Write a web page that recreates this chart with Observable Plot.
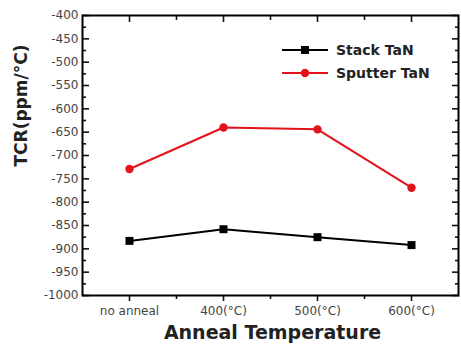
<!DOCTYPE html>
<html>
<head>
<meta charset="utf-8">
<script src="https://cdn.jsdelivr.net/npm/d3@7"></script>
<script src="https://cdn.jsdelivr.net/npm/@observablehq/plot@0.6"></script>
<style>
  html, body { margin: 0; padding: 0; background: white; }
  #wrap { position: relative; width: 461px; height: 354px; font-family: "DejaVu Sans", sans-serif; }
  .leg { position: absolute; left: 280px; display: flex; align-items: center; font-weight: bold; font-size: 14px; color: #222; }
  .leg svg { margin-right: 6px; }
</style>
</head>
<body>
<div id="wrap"></div>
<script>
const categories = ["no anneal", "400(°C)", "500(°C)", "600(°C)"];
const stackTaN = [-883, -858, -875, -892];
const sputterTaN = [-729, -640, -644, -769];
const yMajorTicks = [-1000, -950, -900, -850, -800, -750, -700, -650, -600, -550, -500, -450, -400];
const yMinorTicks = [-975, -925, -875, -825, -775, -725, -675, -625, -575, -525, -475, -425];
const xMajorTicks = [1, 2, 3, 4];
const xMinorTicks = [1.5, 2.5, 3.5];

const stackData = categories.map((c, i) => ({x: i + 1, y: stackTaN[i]}));
const sputterData = categories.map((c, i) => ({x: i + 1, y: sputterTaN[i]}));
const red = "#e3121b";
const tk = "#111";

const chart = Plot.plot({
  width: 461,
  height: 354,
  marginLeft: 82,
  marginRight: 3,
  marginTop: 15,
  marginBottom: 59,
  x: {domain: [0.5, 4.5], label: null},
  y: {domain: [-1000, -400], label: null},
  style: {fontFamily: "DejaVu Sans, sans-serif", fontSize: "12px", background: "white", color: "black"},
  marks: [
    Plot.axisY(yMajorTicks, {anchor: "left", tickSize: 7, dx: 7, text: null, label: null, strokeWidth: 1.6, stroke: tk}),
    Plot.axisY(yMinorTicks, {anchor: "left", tickSize: 4, dx: 4, text: null, label: null, strokeWidth: 1.6, stroke: tk}),
    Plot.axisY(yMajorTicks, {anchor: "right", tickSize: 7, dx: -7, text: null, label: null, strokeWidth: 1.6, stroke: tk}),
    Plot.axisY(yMinorTicks, {anchor: "right", tickSize: 4, dx: -4, text: null, label: null, strokeWidth: 1.6, stroke: tk}),
    Plot.axisY(yMajorTicks, {anchor: "left", tickSize: 0, tickPadding: 4, label: null, fill: "#444", tickFormat: d => String(d)}),
    Plot.axisX(xMajorTicks, {anchor: "bottom", tickSize: 6, tickPadding: 5, label: null, fill: "#444", strokeWidth: 1.6, stroke: tk, tickFormat: d => categories[d - 1]}),
    Plot.axisX(xMinorTicks, {anchor: "bottom", tickSize: 4, text: null, label: null, strokeWidth: 1.6, stroke: tk}),
    Plot.axisX(xMajorTicks, {anchor: "top", tickSize: 6, dy: 6, text: null, label: null, strokeWidth: 1.6, stroke: tk}),
    Plot.axisX(xMinorTicks, {anchor: "top", tickSize: 4, dy: 4, text: null, label: null, strokeWidth: 1.6, stroke: tk}),
    Plot.frame({stroke: "black", strokeWidth: 2}),
    Plot.line(sputterData, {x: "x", y: "y", stroke: red, strokeWidth: 2}),
    Plot.dot(sputterData, {x: "x", y: "y", fill: red, r: 4.2, symbol: "circle"}),
    Plot.line(stackData, {x: "x", y: "y", stroke: "black", strokeWidth: 2}),
    Plot.dot(stackData, {x: "x", y: "y", fill: "black", r: 4.5, symbol: "square"}),
    Plot.text(["TCR(ppm/°C)"], {frameAnchor: "left", rotate: -90, dx: -61, dy: 11, fontSize: 17, fontWeight: "bold", fill: "#222"}),
    Plot.text(["Anneal Temperature"], {frameAnchor: "bottom", dx: 2, dy: 43, fontSize: 19, fontWeight: "bold", fill: "#222"})
  ]
});

const wrap = document.getElementById("wrap");
wrap.appendChild(chart);

const legendItems = [
  {label: "Stack TaN", color: "black", symbol: "square", top: 41},
  {label: "Sputter TaN", color: red, symbol: "circle", top: 64}
];
for (const item of legendItems) {
  const div = document.createElement("div");
  div.className = "leg";
  div.style.top = item.top + "px";
  const marker = item.symbol === "square"
    ? `<rect x="21" y="5" width="8" height="8" fill="${item.color}"/>`
    : `<circle cx="25" cy="9" r="4.2" fill="${item.color}"/>`;
  div.innerHTML = `<svg width="50" height="18"><line x1="2" x2="48" y1="9" y2="9" stroke="${item.color}" stroke-width="2"/>${marker}</svg><span>${item.label}</span>`;
  wrap.appendChild(div);
}
</script>
</body>
</html>
